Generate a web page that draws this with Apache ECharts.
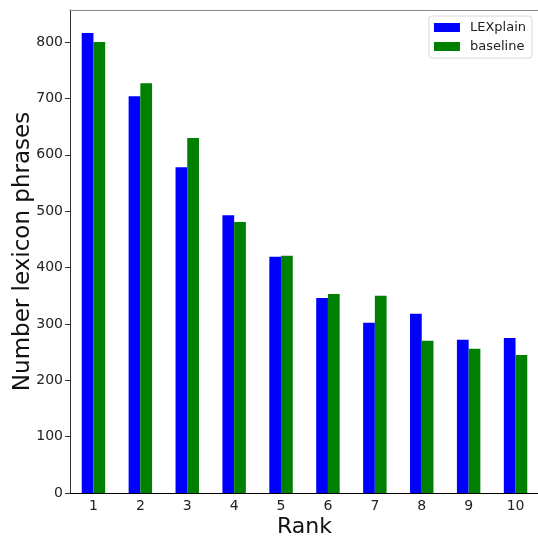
<!DOCTYPE html>
<html>
<head>
<meta charset="utf-8">
<script src="https://cdn.jsdelivr.net/npm/echarts@6/dist/echarts.min.js"></script>
<style>html,body{margin:0;padding:0;background:#fff}#c{width:538px;height:541px}</style>
</head>
<body>
<div id="c"></div>
<script>
const categories = ['1','2','3','4','5','6','7','8','9','10'];
const lexplain = [816, 704, 578, 493, 419, 346, 302, 318, 272, 275];
const baseline = [800, 727, 630, 481, 421, 353, 350, 270, 256, 245];
const yTicks = [0, 100, 200, 300, 400, 500, 600, 700, 800];

const font = 'DejaVu Sans';
const chart = echarts.init(document.getElementById('c'), null, {renderer: 'canvas'});
chart.setOption({
  animation: false,
  backgroundColor: '#fff',
  textStyle: {fontFamily: font},
  grid: {left: 70, top: 10, width: 469, bottom: 48, containLabel: false, outerBoundsMode: 'none'},
  legend: {
    orient: 'vertical', right: 6, top: 16,
    itemWidth: 26, itemHeight: 9, itemGap: 6,
    padding: [5, 6, 5, 5],
    borderColor: '#d8d8d8', borderWidth: 1, borderRadius: 3,
    backgroundColor: '#fff',
    textStyle: {fontFamily: font, fontSize: 13, color: '#222', padding: [0, 0, 0, 5]},
    data: [{name: 'LEXplain', icon: 'rect'}, {name: 'baseline', icon: 'rect'}]
  },
  xAxis: [{
    type: 'category', data: categories, position: 'bottom',
    name: 'Rank', nameLocation: 'middle', nameGap: 23, nameMoveOverlap: false,
    nameTextStyle: {fontFamily: font, fontSize: 22, color: '#111'},
    axisLine: {lineStyle: {color: '#000', width: 1}},
    axisTick: {alignWithLabel: true, length: 5, lineStyle: {color: '#000'}},
    axisLabel: {fontFamily: font, fontSize: 14, color: '#222', margin: 6}
  }, {
    type: 'category', data: categories, position: 'top',
    axisLine: {show: true, lineStyle: {color: '#888', width: 1}},
    axisTick: {show: false}, axisLabel: {show: false}, splitLine: {show: false}
  }],
  yAxis: {
    type: 'value', min: 0, max: 857, interval: 100,
    name: 'Number lexicon phrases', nameLocation: 'middle', nameGap: 35, nameMoveOverlap: false,
    nameTextStyle: {fontFamily: font, fontSize: 23, color: '#111'},
    axisLine: {show: true, lineStyle: {color: '#333', width: 1}},
    axisTick: {show: true, length: 5, lineStyle: {color: '#333'}, customValues: yTicks},
    axisLabel: {fontFamily: font, fontSize: 14, color: '#222', margin: 7, customValues: yTicks},
    splitLine: {show: false}
  },
  series: [{
    name: 'LEXplain', type: 'bar', data: lexplain, barWidth: '25%', barGap: '0%',
    itemStyle: {color: '#0000ff'}
  }, {
    name: 'baseline', type: 'bar', data: baseline, barWidth: '25%', barGap: '0%',
    itemStyle: {color: '#008000'}
  }]
});
</script>
</body>
</html>
